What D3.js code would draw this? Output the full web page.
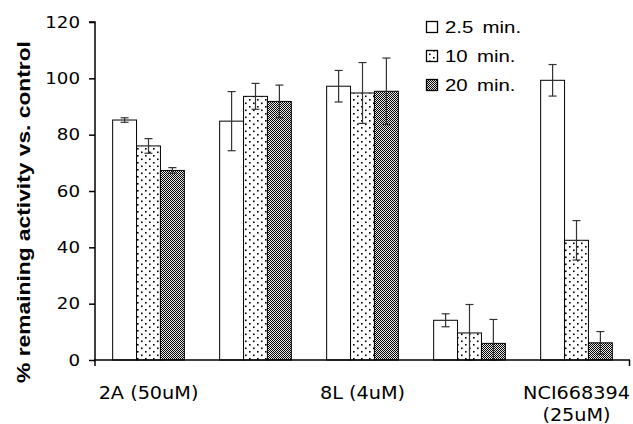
<!DOCTYPE html>
<html><head><meta charset="utf-8">
<script src="https://cdn.jsdelivr.net/npm/d3@7"></script>
<style>body{margin:0;background:#fff}svg{display:block}</style>
</head><body>
<script>
const categories = ["2A (50uM)", "", "8L (4uM)", "", "NCI668394|(25uM)"];
const series = ["2.5 min.", "10 min.", "20 min."];
const values = [
  [85.2, 84.8, 97.2, 14.1, 99.3],
  [76.0, 93.6, 94.8, 9.6, 42.5],
  [67.3, 91.8, 95.4, 5.9, 6.1]
];
const errors = [
  [0.8, 10.5, 5.6, 2.3, 5.6],
  [2.6, 4.6, 10.8, 10.1, 7.0],
  [1.0, 5.8, 11.8, 8.5, 4.0]
];
const yTicks = [0, 20, 40, 60, 80, 100, 120];

const W = 633, H = 424;
const m = {l: 95, r: 3, t: 22, b: 64};
const SX = 1.14;
const svg = d3.select("body").append("svg").attr("width", W).attr("height", H);
const defs = svg.append("defs");
const p1 = defs.append("pattern").attr("id", "dots").attr("patternUnits", "userSpaceOnUse")
  .attr("width", 8).attr("height", 7);
p1.append("rect").attr("width", 8).attr("height", 7).attr("fill", "#fff");
p1.append("rect").attr("x", 1).attr("y", 1).attr("width", 1.6).attr("height", 1.6).attr("fill", "#000");
p1.append("rect").attr("x", 5).attr("y", 4.5).attr("width", 1.6).attr("height", 1.6).attr("fill", "#000");
const p2 = defs.append("pattern").attr("id", "check").attr("patternUnits", "userSpaceOnUse")
  .attr("width", 2).attr("height", 2);
p2.append("rect").attr("width", 2).attr("height", 2).attr("fill", "#e8e8e8");
p2.append("rect").attr("x", 0).attr("y", 0).attr("width", 1).attr("height", 1).attr("fill", "#000");
p2.append("rect").attr("x", 1).attr("y", 1).attr("width", 1).attr("height", 1).attr("fill", "#000");
const fills = ["#fff", "url(#dots)", "url(#check)"];

const x0 = d3.scaleBand().domain(d3.range(categories.length)).range([m.l, W - m.r]).paddingInner(0.33).paddingOuter(0.165);
const x1 = d3.scaleBand().domain(d3.range(series.length)).range([0, x0.bandwidth()]);
const y = d3.scaleLinear().domain([0, 120]).range([H - m.b, m.t]);

series.forEach((s, si) => {
  svg.append("g").selectAll("rect").data(values[si]).join("rect")
    .attr("x", (d, i) => x0(i) + x1(si))
    .attr("y", d => y(d))
    .attr("width", x1.bandwidth())
    .attr("height", d => y(0) - y(d))
    .attr("fill", fills[si])
    .attr("stroke", "#000").attr("stroke-width", 1);
});
series.forEach((s, si) => {
  const g = svg.append("g").attr("stroke", "#333").attr("stroke-width", 1.2);
  values[si].forEach((v, i) => {
    const cx = x0(i) + x1(si) + x1.bandwidth() / 2;
    const e = errors[si][i];
    const lo = y(Math.max(0, v - e)), hi = y(v + e);
    g.append("line").attr("x1", cx).attr("x2", cx).attr("y1", hi).attr("y2", lo);
    g.append("line").attr("x1", cx - 4).attr("x2", cx + 4).attr("y1", hi).attr("y2", hi);
    g.append("line").attr("x1", cx - 4).attr("x2", cx + 4).attr("y1", lo).attr("y2", lo);
  });
});

const ya = svg.append("g").attr("transform", `translate(${m.l},0)`)
  .call(d3.axisLeft(y).tickValues(yTicks).tickSize(6).tickPadding(9));
ya.select(".domain").attr("d", `M-6,${y(120)}H0V${y(0) + 6}`).attr("stroke-width", 1.5);
ya.selectAll(".tick line").attr("stroke-width", 1.5);
ya.selectAll("text").attr("font-family", "DejaVu Sans").attr("font-size", 16).attr("fill", "#000")
  .attr("x", 0).attr("transform", `translate(-15,0) scale(${SX},1)`);

svg.append("line").attr("x1", m.l - 1).attr("x2", W - m.r).attr("y1", y(0)).attr("y2", y(0)).attr("stroke", "#000").attr("stroke-width", 1.5);
svg.append("line").attr("x1", W - m.r - 0.5).attr("x2", W - m.r - 0.5).attr("y1", y(0)).attr("y2", y(0) + 6).attr("stroke", "#000").attr("stroke-width", 1.5);
categories.forEach((c, i) => {
  if (!c) return;
  const cx = x0(i) + x0.bandwidth() / 2;
  const t = svg.append("text").attr("transform", `translate(${cx},${y(0) + 39}) scale(1.1,1)`)
    .attr("text-anchor", "middle").attr("font-family", "DejaVu Sans").attr("font-size", 17.5);
  c.split("|").forEach((ln, k) => t.append("tspan").attr("x", 0).attr("dy", k ? 22 : 0).text(ln));
});

svg.append("text").attr("transform", `translate(30,${212}) rotate(-90) scale(1.2,1)`)
  .attr("text-anchor", "middle").attr("font-family", "Liberation Sans").attr("font-weight", "bold")
  .attr("font-size", 19).text("% remaining activity vs. control");

series.forEach((s, si) => {
  const ly = 27 + si * 29;
  svg.append("rect").attr("x", 426.5).attr("y", ly - 5.5).attr("width", 11).attr("height", 11)
    .attr("fill", fills[si]).attr("stroke", "#000").attr("stroke-width", 1.3);
  const parts = s.split(" ");
  const t = svg.append("text").attr("transform", `translate(445,${ly + 6}) scale(1.2,1)`).attr("font-family", "Liberation Sans")
    .attr("font-size", 17);
  t.append("tspan").text(parts[0]);
  t.append("tspan").attr("dx", 3).text(" " + parts[1]);
});
</script>
</body></html>
